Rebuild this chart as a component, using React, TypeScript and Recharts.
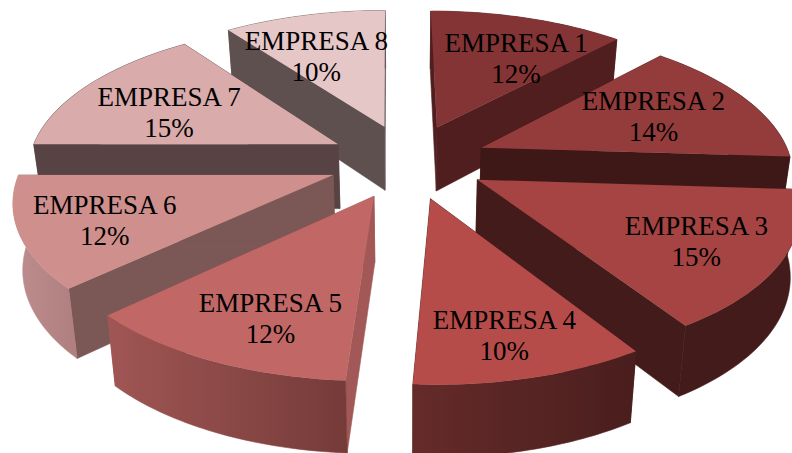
import React from 'react';
import { PieChart, Pie } from 'recharts';

// Market share per company
const companies = ['EMPRESA 1', 'EMPRESA 2', 'EMPRESA 3', 'EMPRESA 4', 'EMPRESA 5', 'EMPRESA 6', 'EMPRESA 7', 'EMPRESA 8'];
const shares = [12, 14, 15, 10, 12, 12, 15, 10];

const rows = companies.map((name, i) => ({ name, value: shares[i] }));

// Back-to-front drawing order so nearer slices cover farther ones
const paintOrder = [7, 0, 6, 1, 5, 2, 4, 3];

const topColors = ['#843435', '#943C3B', '#A54442', '#B64C49', '#C16866', '#CF8F8D', '#D9ABAB', '#E6C7C8'];
const cutColors = ['#501E1E', '#3E1717', '#431B1A', '#431B1A', '#A25856', '#7B5756', '#574344', '#5F5050'];
const rimColors: [string, string][] = [
  ['#501E1E', '#501E1E'],
  ['#3E1717', '#3E1717'],
  ['#431B1A', '#431B1A'],
  ['#652B2A', '#491E1D'],
  ['#A05654', '#753B39'],
  ['#BD8E8D', '#AE7F7E'],
  ['#574344', '#574344'],
  ['#5F5050', '#5F5050'],
];

// How far each slice is pulled out of the pie
const explode = [0.26, 0.255, 0.25, 0.26, 0.26, 0.26, 0.26, 0.26];

// Label anchors: radial distance from each slice's tip, then a pixel nudge
const labelRadius = [0.62, 0.62, 0.62, 0.62, 0.62, 0.62, 0.62, 0.62];
const labelNudge: [number, number][] = [
  [20, -4], [5, -7], [37, 6], [15, 27], [-8, 20], [-38, 4], [-10, -1], [-16, -4],
];

const WIDTH = 792;
const HEIGHT = 453;
const CX = 409;
const CY = 161;
const RX = 310;
const RY = 144;
const SKEW = 2.5;
const PERSPECTIVE = 0.155;
const FONT_SIZE = 27;

const RAD = Math.PI / 180;

type Pt = [number, number];

// World point on the pie's plane (unit radius, Y towards the back) to the screen
const project = (x: number, y: number): Pt => {
  const s = 1 / (1 + PERSPECTIVE * y);
  return [CX - SKEW * y + x * RX * s, CY - y * RY * s];
};

// Same point on the underside of the slice
const projectLow = (x: number, y: number): Pt => {
  const [px, py] = project(x, y);
  return [CX + (px - CX) * 0.975, py + 65 - 6 * y];
};

const radial = (angle: number, r: number): Pt => [Math.cos(angle * RAD) * r, Math.sin(angle * RAD) * r];

const toPath = (pts: Pt[]) => `M${pts.map((p) => `${p[0].toFixed(2)},${p[1].toFixed(2)}`).join('L')}Z`;

const Slice3D = (props: any) => {
  const { startAngle, endAngle, midAngle, name, payload } = props;
  const index = companies.indexOf(name ?? payload?.name);
  const [ox, oy] = radial(midAngle, explode[index]);
  const steps = 40;
  const arc: Pt[] = [];
  for (let k = 0; k <= steps; k += 1) {
    const a = startAngle + ((endAngle - startAngle) * k) / steps;
    const [x, y] = radial(a, 1);
    arc.push([ox + x, oy + y]);
  }
  const topArc = arc.map((p) => project(p[0], p[1]));
  const lowArc = arc.map((p) => projectLow(p[0], p[1]));
  const tip = project(ox, oy);
  const tipLow = projectLow(ox, oy);
  const gradientId = `rim-${index}`;
  const cut = cutColors[index];
  return (
    <g>
      <defs>
        <linearGradient id={gradientId} x1="0" x2="1" y1="0" y2="0">
          <stop offset="0" stopColor={rimColors[index][0]} />
          <stop offset="1" stopColor={rimColors[index][1]} />
        </linearGradient>
      </defs>
      <path d={toPath([tip, topArc[0], lowArc[0], tipLow])} fill={cut} stroke={cut} strokeWidth={0.6} />
      <path d={toPath([tip, topArc[steps], lowArc[steps], tipLow])} fill={cut} stroke={cut} strokeWidth={0.6} />
      <path
        d={toPath([...topArc, ...[...lowArc].reverse()])}
        fill={`url(#${gradientId})`}
        stroke={`url(#${gradientId})`}
        strokeWidth={0.6}
      />
      <path d={toPath([tip, ...topArc])} fill={topColors[index]} />
    </g>
  );
};

const SliceLabel = (props: any) => {
  const { midAngle, name, payload } = props;
  const index = companies.indexOf(name ?? payload?.name);
  const [ox, oy] = radial(midAngle, explode[index]);
  const [dx, dy] = radial(midAngle, labelRadius[index]);
  const [x0, y0] = project(ox + dx, oy + dy);
  const x = x0 + labelNudge[index][0];
  const y = y0 + labelNudge[index][1];
  return (
    <text
      x={x}
      y={y}
      textAnchor="middle"
      fontFamily="'Liberation Serif', serif"
      fontSize={FONT_SIZE}
      fill="#000"
    >
      <tspan x={x} dy={0}>{companies[index]}</tspan>
      <tspan x={x} dy={31}>{`${shares[index]}%`}</tspan>
    </text>
  );
};

const Hidden = () => <g />;

export default function App() {
  return (
    <div style={{ position: 'absolute', left: 0, top: 0, width: WIDTH, height: HEIGHT, overflow: 'hidden', background: '#fff' }}>
      <PieChart width={WIDTH} height={HEIGHT} margin={{ top: 0, right: 0, bottom: 0, left: 0 }}>
        {paintOrder.map((slice) => (
          <Pie
            key={slice}
            data={rows}
            dataKey="value"
            nameKey="name"
            cx={CX}
            cy={CY}
            outerRadius={RX}
            startAngle={90}
            endAngle={-270}
            isAnimationActive={false}
            stroke="none"
            labelLine={false}
            shape={(props: any) =>
              (props.name ?? props.payload?.name) === companies[slice] ? <Slice3D {...props} /> : <Hidden />
            }
          />
        ))}
        <Pie
          data={rows}
          dataKey="value"
          nameKey="name"
          cx={CX}
          cy={CY}
          outerRadius={RX}
          startAngle={90}
          endAngle={-270}
          isAnimationActive={false}
          stroke="none"
          labelLine={false}
          shape={() => <Hidden />}
          label={(props: any) => <SliceLabel {...props} />}
        />
      </PieChart>
    </div>
  );
}
